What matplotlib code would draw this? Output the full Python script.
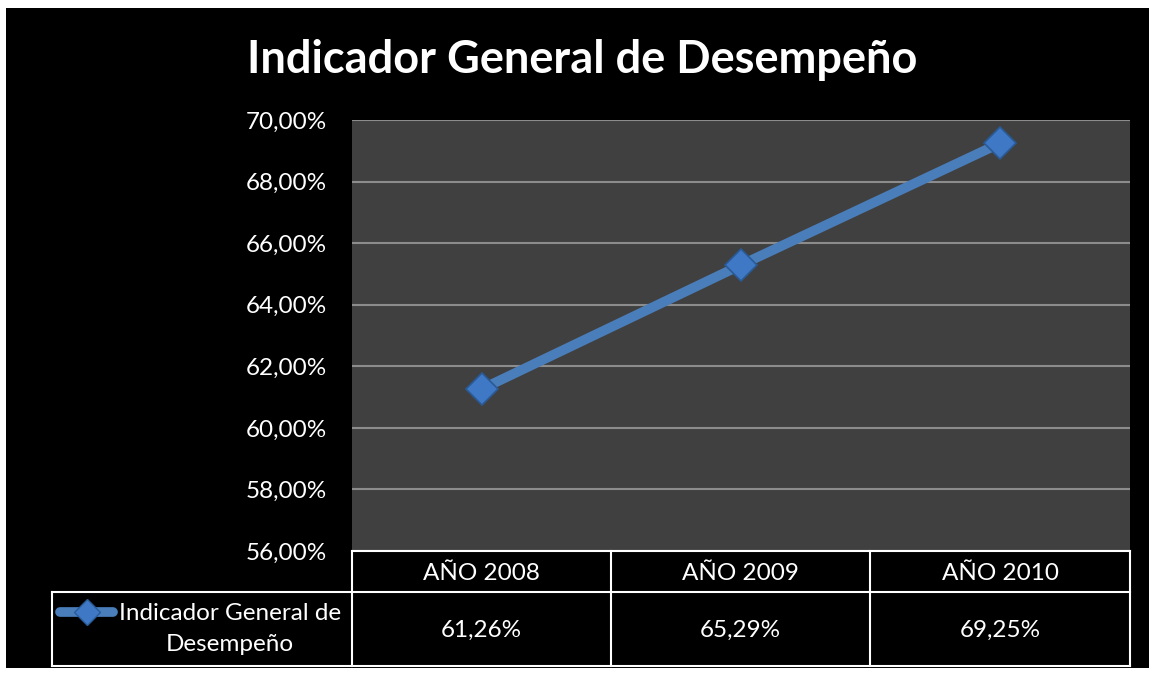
import matplotlib.pyplot as plt
from matplotlib.lines import Line2D
from matplotlib.patches import Rectangle

# data
categories = ["AÑO 2008", "AÑO 2009", "AÑO 2010"]
values = [61.26, 65.29, 69.25]
value_labels = ["61,26%", "65,29%", "69,25%"]
series_name = "Indicador General de\nDesempeño"
title = "Indicador General de Desempeño"
y_ticks = [56, 58, 60, 62, 64, 66, 68, 70]

plt.rcParams["font.family"] = ["Lato", "DejaVu Sans"]

W, H = 1149, 675
fig = plt.figure(figsize=(W / 100, H / 100), dpi=100)
fig.patch.set_facecolor("white")

# black chart area with thin white margin
fig.add_artist(Rectangle((6 / W, 7 / H), (W - 6) / W, (H - 15) / H,
                         transform=fig.transFigure, facecolor="black",
                         edgecolor="none", zorder=0))

def fx(px):
    return px / W

def fy(py):
    return 1 - py / H

left, right, top, bottom = 352, 1130, 120, 551
ax = fig.add_axes([fx(left), fy(bottom), fx(right - left), fy(top) - fy(bottom)])
ax.set_facecolor("#404040")
for s in ax.spines.values():
    s.set_visible(False)

x = list(range(len(categories)))
ax.plot(x, values, color="#4a7ebb", lw=7, solid_capstyle="round", zorder=3)
ax.plot(x, values, ls="none", marker="D", ms=16, mfc="#3f79c6",
        mec="#2a5a96", mew=1.2, zorder=4)

ax.set_xlim(-0.5, 2.5)
ax.set_ylim(56, 70)
ax.set_yticks(y_ticks)
ax.set_yticklabels([f"{t:.2f}%".replace(".", ",") for t in y_ticks])
ax.set_xticks([])
ax.tick_params(axis="y", length=0, pad=18, labelsize=17.5, labelcolor="white")
ax.grid(axis="y", color="#8c8c8c", lw=1.5)
ax.set_axisbelow(True)

fig.text(0.507, fy(60), title, ha="center", va="center", color="white",
         fontsize=32.5, fontweight="bold")

# data table under the plot
lc = "white"
lw = 1.5
cols = [352, 611, 870, 1130]
fig.add_artist(Line2D([fx(352), fx(1130)], [fy(551)] * 2, color=lc, lw=lw))
fig.add_artist(Line2D([fx(52), fx(1130)], [fy(592)] * 2, color=lc, lw=lw))
fig.add_artist(Line2D([fx(52), fx(1130)], [fy(666)] * 2, color=lc, lw=lw))
for c in cols:
    fig.add_artist(Line2D([fx(c)] * 2, [fy(551), fy(666)], color=lc, lw=lw))
fig.add_artist(Line2D([fx(52)] * 2, [fy(592), fy(666)], color=lc, lw=lw))

for i, (cat, lab) in enumerate(zip(categories, value_labels)):
    cx = (cols[i] + cols[i + 1]) / 2
    fig.text(fx(cx), fy(573), cat, ha="center", va="center", color="white", fontsize=17.5)
    fig.text(fx(cx), fy(630), lab, ha="center", va="center", color="white", fontsize=17.5)

# legend key
fig.add_artist(Line2D([fx(60), fx(113)], [fy(612)] * 2, color="#4a7ebb", lw=7,
                      solid_capstyle="round"))
fig.add_artist(Line2D([fx(87)], [fy(612)], ls="none", marker="D", ms=13,
                      mfc="#3f79c6", mec="#2a5a96", mew=1))
fig.text(fx(230), fy(629), series_name, ha="center", va="center", color="white",
         fontsize=17.5, linespacing=1.55)

fig.savefig("out.png", dpi=100, facecolor=fig.get_facecolor())
